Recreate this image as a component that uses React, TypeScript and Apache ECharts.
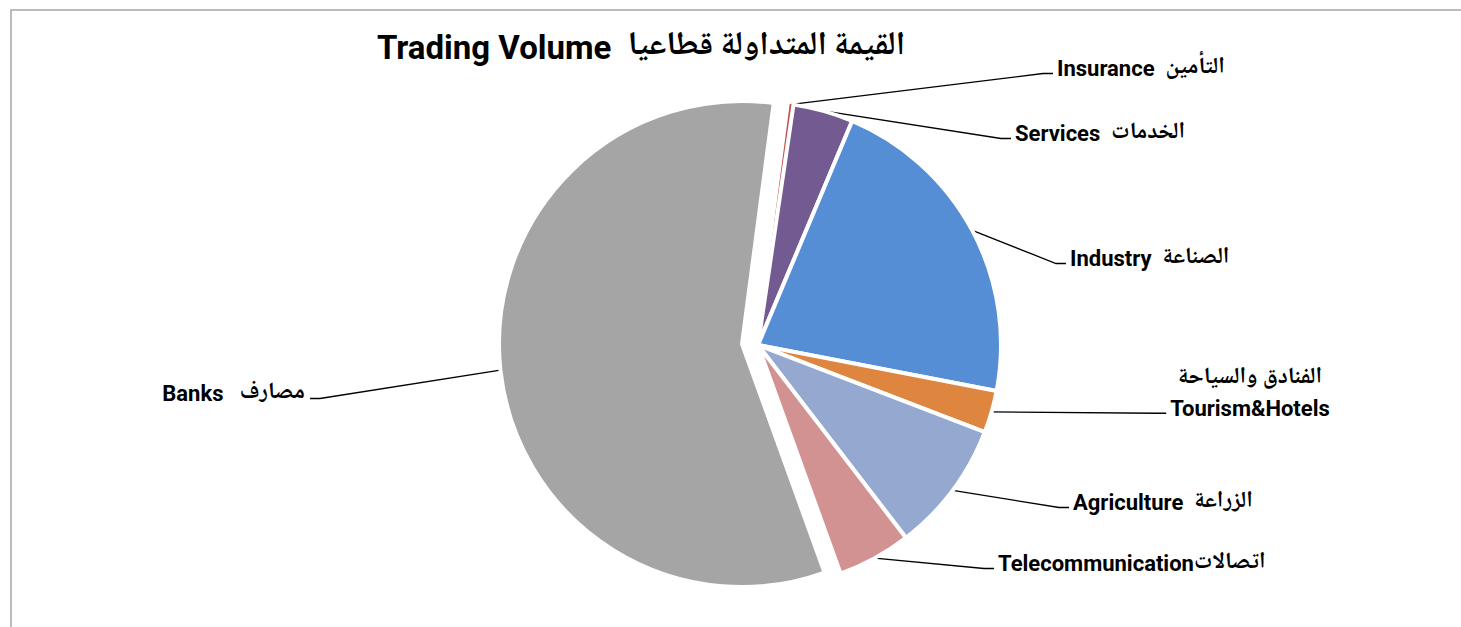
import React, { useEffect, useRef } from "react";
import * as echarts from "echarts";

// ---- data ----
const sectorsEn = ["Insurance", "Services", "Industry", "Tourism&Hotels", "Agriculture", "Telecommunication", "Banks"];
const sectorsAr = ["التأمين", "الخدمات", "الصناعة", "الفنادق والسياحة", "الزراعة", "اتصالات", "مصارف"];
const sharePct = [0.25, 4.0, 21.7, 2.8, 8.75, 4.9, 57.6];
const sliceColors = ["#C0504D", "#735A91", "#558ED5", "#DE8540", "#95A9D0", "#D39292", "#A5A5A5"];
const explodedSector = "Banks";
const titleEn = "Trading Volume";
const titleAr = "القيمة المتداولة قطاعيا";

// ---- label placement (layout only) ----
const labelAnchors: { x: number; y: number; align: "left" | "center" | "right" }[] = [
  { x: 1057, y: 68, align: "left" },
  { x: 1015, y: 133, align: "left" },
  { x: 1070, y: 258, align: "left" },
  { x: 1250, y: 393, align: "center" },
  { x: 1073, y: 502, align: "left" },
  { x: 998, y: 563, align: "left" },
  { x: 305, y: 393, align: "right" },
];

const FONT = "Roboto, 'DejaVu Sans', sans-serif";
const AR_FONT = "'Noto Naskh Arabic', 'Noto Sans Arabic', 'DejaVu Sans', sans-serif";

function labelText(i: number): string {
  const en = sectorsEn[i];
  const ar = sectorsAr[i];
  if (en === "Tourism&Hotels") return `{ar|${ar}}\n{en|${en}}`;
  if (en === "Telecommunication") return `{en|${en}}{ar|${ar}}`;
  if (en === "Banks") return `{en|${en}   }{ar|${ar}}`;
  return `{en|${en}  }{ar|${ar}}`;
}

const richStyles = {
  en: { fontSize: 22, fontWeight: "bold", fontFamily: FONT, color: "#000", lineHeight: 30 },
  ar: { fontSize: 23, fontWeight: "bold", fontFamily: AR_FONT, color: "#000", lineHeight: 30 },
};

function makeLayout() {
  return (params: any) => {
    const i = params.dataIndex;
    const a = labelAnchors[i];
    const r = params.labelRect;
    const w = r.width;
    const h = r.height;
    const p0 = params.labelLinePoints ? params.labelLinePoints[0] : [a.x, a.y];
    const endY = a.y + h / 2 - 6;
    let pts;
    let x = a.x;
    let align: string = a.align;
    if (a.align === "right") {
      const ex = a.x + 5;
      pts = [p0, [ex + 10, endY], [ex, endY]];
      x = a.x - w;
      align = "left";
    } else {
      const left = a.align === "center" ? a.x - w / 2 : a.x;
      const ex = left - 4;
      pts = [p0, [ex - 10, endY], [ex, endY]];
    }
    return { x, y: a.y, align, verticalAlign: "middle", labelLinePoints: pts };
  };
}

function seriesFor(showBanks: boolean, center: number[]) {
  return {
    type: "pie",
    center,
    radius: [0, 243],
    startAngle: 82.5,
    clockwise: true,
    silent: true,
    avoidLabelOverlap: false,
    emphasis: { disabled: true },
    itemStyle: { borderColor: "#ffffff", borderWidth: 4 },
    label: {
      show: true,
      position: "outside",
      color: "#000",
      rich: richStyles,
    },
    labelLine: {
      show: true,
      length: 10,
      length2: 10,
      smooth: false,
      lineStyle: { color: "#000", width: 1.3 },
    },
    labelLayout: makeLayout(),
    data: sharePct.map((v, i) => {
      const isBanks = sectorsEn[i] === explodedSector;
      const visible = isBanks === showBanks;
      return {
        value: v,
        name: sectorsEn[i],
        itemStyle: visible
          ? { color: sliceColors[i], borderWidth: sectorsEn[i] === "Insurance" ? 0 : 4 }
          : { color: "rgba(0,0,0,0)", borderWidth: 0 },
        label: visible
          ? { show: true, formatter: labelText(i), align: "center" }
          : { show: false },
        labelLine: { show: visible },
      };
    }),
  };
}

export default function App() {
  const ref = useRef<HTMLDivElement>(null);
  useEffect(() => {
    if (!ref.current) return;
    const chart = echarts.init(ref.current, undefined, { renderer: "svg" });
    chart.setOption({
      animation: false,
      backgroundColor: "#ffffff",
      graphic: [
        {
          type: "rect",
          silent: true,
          z: 0,
          shape: { x: 11, y: 10, width: 1480, height: 700 },
          style: { fill: "none", stroke: "#a6a6a6", lineWidth: 1.5 },
        },
        {
          type: "text",
          x: 641,
          y: 47,
          silent: true,
          style: {
            text: `{en|${titleEn}}  {ar|${titleAr}}`,
            rich: {
              en: { fontSize: 33, fontWeight: "bold", fontFamily: FONT, fill: "#000", color: "#000" },
              ar: { fontSize: 33, fontWeight: "bold", fontFamily: AR_FONT, fill: "#000", color: "#000" },
            },
            fontSize: 33,
            fontWeight: "bold",
            fontFamily: FONT,
            fill: "#000",
            align: "center",
            verticalAlign: "middle",
          },
        },
      ],
      series: [seriesFor(false, [758, 345]), seriesFor(true, [742, 344])],
    });
    return () => chart.dispose();
  }, []);
  return (
    <div
      ref={ref}
      style={{ position: "absolute", left: 0, top: 0, width: 1461, height: 627 }}
    />
  );
}
